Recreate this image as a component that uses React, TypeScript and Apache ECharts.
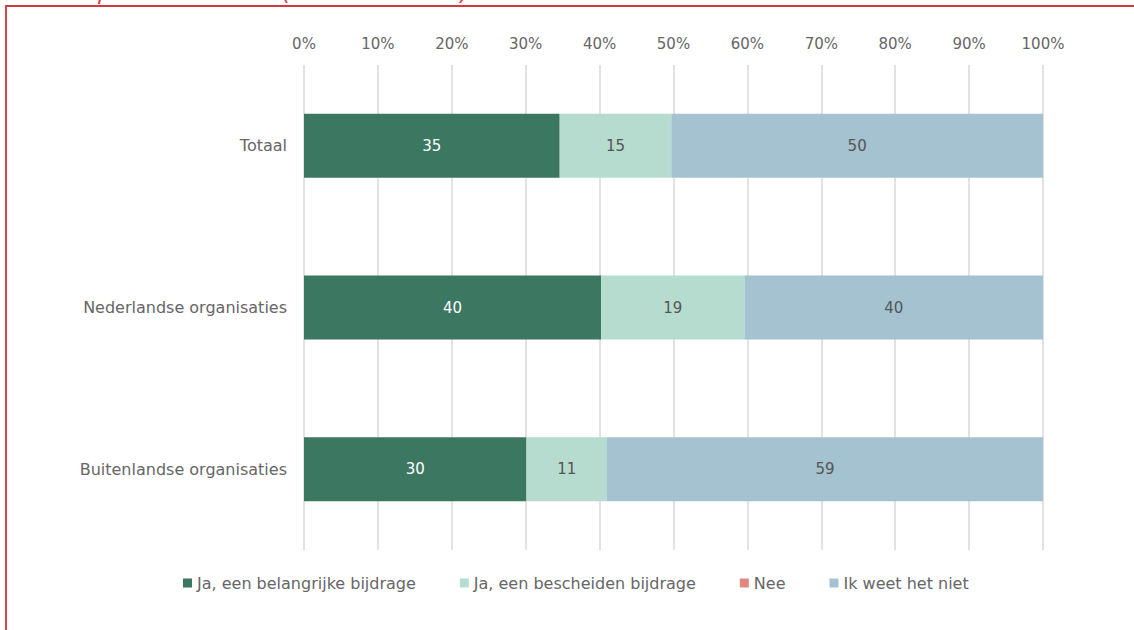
import React, { useEffect, useRef } from "react";
import * as echarts from "echarts";

const categories = ["Totaal", "Nederlandse organisaties", "Buitenlandse organisaties"];
const seriesNames = ["Ja, een belangrijke bijdrage", "Ja, een bescheiden bijdrage", "Nee", "Ik weet het niet"];
const belangrijk = [34.6, 40.2, 30.1];
const bescheiden = [15.1, 19.4, 10.9];
const nee = [0, 0, 0];
const weetNiet = [50.3, 40.4, 59.0];
const tickValues = [0, 10, 20, 30, 40, 50, 60, 70, 80, 90, 100];
const titleText = "platform creatie (NL - Buitenland)?";

const colors = ["#3b7761", "#b6dccf", "#e0877f", "#a4c2cf"];
const labelColors = ["#ffffff", "#555555", "#555555", "#555555"];
const FONT = "'DejaVu Sans', sans-serif";

export default function App() {
  const ref = useRef<HTMLDivElement>(null);
  useEffect(() => {
    if (!ref.current) return;
    const chart = echarts.init(ref.current, undefined, { renderer: "svg" });
    const dataSets = [belangrijk, bescheiden, nee, weetNiet];
    chart.setOption({
      animation: false,
      backgroundColor: "#ffffff",
      grid: { left: 304, right: 91, top: 65, bottom: 80 },
      legend: {
        bottom: 34,
        left: 178,
        itemWidth: 9,
        itemHeight: 9,
        itemGap: 44,
        icon: "rect",
        textStyle: { color: "#666666", fontSize: 16, fontFamily: FONT },
        data: seriesNames,
      },
      xAxis: {
        type: "value",
        position: "top",
        min: 0,
        max: tickValues[tickValues.length - 1],
        interval: 10,
        axisLine: { show: false },
        axisTick: { show: false },
        axisLabel: {
          formatter: (v: number) => v + "%",
          color: "#666666",
          fontSize: 15,
          fontFamily: FONT,
          margin: 14,
        },
        splitLine: { show: true, lineStyle: { color: "#d9d9d9", width: 1.5 } },
      },
      yAxis: {
        type: "category",
        data: categories,
        inverse: true,
        axisLine: { show: false },
        axisTick: { show: false },
        axisLabel: { color: "#666666", fontSize: 16, fontFamily: FONT, margin: 17 },
      },
      series: seriesNames.map((name, i) => ({
        name,
        type: "bar",
        stack: "total",
        barWidth: 64,
        data: dataSets[i],
        itemStyle: { color: colors[i] },
        label: {
          show: i !== 2,
          position: "inside",
          color: labelColors[i],
          fontSize: 15,
          fontFamily: FONT,
          formatter: (p: any) => (p.value > 0 ? String(Math.round(p.value)) : ""),
        },
      })),
      graphic: [
        { type: "rect", shape: { x: 5, y: 5, width: 1129, height: 2 }, style: { fill: "#d03a3a" } },
        { type: "rect", shape: { x: 5, y: 5, width: 2, height: 625 }, style: { fill: "#cf4444" } },
        {
          type: "text",
          x: 98,
          y: -19,
          style: {
            text: titleText,
            fill: "#e03a3a",
            fontSize: 22,
            fontStyle: "italic",
            fontFamily: FONT,
          },
        },
      ],
    });
    return () => chart.dispose();
  }, []);
  return <div ref={ref} style={{ width: 1134, height: 630, position: "absolute", left: 0, top: 0 }} />;
}
